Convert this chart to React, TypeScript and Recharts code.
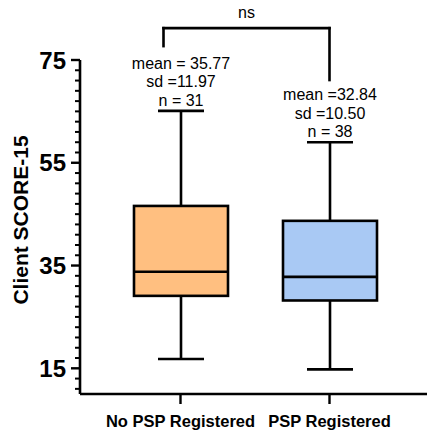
import React from 'react';
import { ComposedChart, Bar, XAxis, YAxis, ReferenceLine, Label } from 'recharts';

const groups = ['No PSP Registered', 'PSP Registered'];
const mins = [16.8, 14.8];
const q1s = [29.1, 28.2];
const medians = [33.8, 32.8];
const q3s = [46.6, 43.7];
const maxs = [65.1, 59.0];
const meanLabels = ['mean = 35.77', 'mean =32.84'];
const sdLabels = ['sd =11.97', 'sd =10.50'];
const nLabels = ['n = 31', 'n = 38'];
const fills = ['#FFBF80', '#A9C9F4'];

const majorTicks = [15, 35, 55, 75];
const minorTicks = [11, 13, 17, 19, 21, 23, 25, 27, 29, 31, 33, 37, 39, 41, 43, 45, 47, 49, 51, 53, 57, 59, 61, 63, 65, 67, 69, 71, 73];
const allTicks = [...minorTicks, ...majorTicks].sort((a, b) => a - b);

const bracketTop = 81.2;
const bracketLeftEnd = 77.7;
const bracketRightEnd = 71.1;
const bracketLabel = 'ns';
const yLabel = 'Client SCORE-15';

const FONT = 'Arial, "Liberation Sans", sans-serif';

const data = groups.map((g, i) => ({
  group: g,
  min: mins[i],
  q1: q1s[i],
  median: medians[i],
  q3: q3s[i],
  max: maxs[i],
  range: [mins[i], maxs[i]],
  fill: fills[i],
  meanLabel: meanLabels[i],
  sdLabel: sdLabels[i],
  nLabel: nLabels[i],
}));

const BoxShape = (props: any) => {
  const { x, y, width, height, payload } = props;
  if (!payload) return null;
  const top = Math.min(y, y + height);
  const h = Math.abs(height);
  const ppu = h / (payload.max - payload.min);
  const py = (v: number) => top + (payload.max - v) * ppu;
  const cx = x + width / 2;
  const capHalf = 23;
  const sw = 2.6;
  const tY = py(payload.max) - 5;
  return (
    <g>
      <line x1={cx} x2={cx} y1={py(payload.max)} y2={py(payload.q3)} stroke="#000" strokeWidth={sw} />
      <line x1={cx} x2={cx} y1={py(payload.q1)} y2={py(payload.min)} stroke="#000" strokeWidth={sw} />
      <line x1={cx - capHalf} x2={cx + capHalf} y1={py(payload.max)} y2={py(payload.max)} stroke="#000" strokeWidth={sw} />
      <line x1={cx - capHalf} x2={cx + capHalf} y1={py(payload.min)} y2={py(payload.min)} stroke="#000" strokeWidth={sw} />
      <rect x={x} y={py(payload.q3)} width={width} height={py(payload.q1) - py(payload.q3)} fill={payload.fill} stroke="#000" strokeWidth={sw} />
      <line x1={x} x2={x + width} y1={py(payload.median)} y2={py(payload.median)} stroke="#000" strokeWidth={sw} />
      <g fontFamily={FONT} fontSize={16} fill="#000" textAnchor="middle">
        <text x={cx} y={tY - 37}>{payload.meanLabel}</text>
        <text x={cx} y={tY - 18.5}>{payload.sdLabel}</text>
        <text x={cx} y={tY}>{payload.nLabel}</text>
      </g>
    </g>
  );
};

const YTick = (props: any) => {
  const { x, y, payload } = props;
  const major = majorTicks.includes(payload.value);
  return (
    <g>
      <line x1={x - (major ? 9 : 5)} x2={x} y1={y} y2={y} stroke="#000" strokeWidth={major ? 2.4 : 2} />
      {major && (
        <text x={x - 14} y={y + 8.5} textAnchor="end" fontFamily={FONT} fontSize={24} fontWeight="bold" fill="#000">
          {payload.value}
        </text>
      )}
    </g>
  );
};

const XTick = (props: any) => {
  const { x, y, payload } = props;
  return (
    <text x={x} y={y + 23} textAnchor="middle" fontFamily={FONT} fontSize={16.5} fontWeight="bold" fill="#000">
      {payload.value}
    </text>
  );
};

const YLabelContent = (props: any) => {
  const vb = props.viewBox || { x: 0, y: 60, width: 80, height: 334 };
  const lx = vb.x + 28;
  const ly = vb.y + vb.height / 2 - 7;
  return (
    <text x={lx} y={ly} transform={`rotate(-90, ${lx}, ${ly})`} textAnchor="middle" fontFamily={FONT} fontSize={21} fontWeight="bold" fill="#000">
      {yLabel}
    </text>
  );
};

const LEFT_SHIFT = 17;

const BracketTopShape = (p: any) => {
  const xa = p.x1 - LEFT_SHIFT;
  return (
    <g>
      <line x1={xa} x2={p.x2} y1={p.y1} y2={p.y2} stroke="#000" strokeWidth={2.6} strokeLinecap="square" />
      <text x={(xa + p.x2) / 2} y={p.y1 - 10} textAnchor="middle" fontFamily={FONT} fontSize={16} fill="#000">
        {bracketLabel}
      </text>
    </g>
  );
};

const BracketLeftShape = (p: any) => (
  <line x1={p.x1 - LEFT_SHIFT} x2={p.x2 - LEFT_SHIFT} y1={p.y1} y2={p.y2} stroke="#000" strokeWidth={2.6} strokeLinecap="square" />
);

const BracketRightShape = (p: any) => (
  <line x1={p.x1} x2={p.x2} y1={p.y1} y2={p.y2} stroke="#000" strokeWidth={2.6} strokeLinecap="square" />
);

export default function App() {
  return (
    <div style={{ position: 'absolute', left: 0, top: 0, background: '#fff' }}>
      <ComposedChart width={427} height={436} data={data} margin={{ top: 60, right: 0, bottom: 0, left: 0 }}>
        <XAxis
          dataKey="group"
          type="category"
          height={42}
          padding={{ left: 26, right: 23 }}
          axisLine={{ stroke: '#000', strokeWidth: 2.6 }}
          tickLine={{ stroke: '#000', strokeWidth: 2.4 }}
          tickSize={10}
          tickMargin={0}
          tick={XTick}
          interval={0}
        />
        <YAxis
          type="number"
          domain={[10, 75]}
          ticks={allTicks}
          width={80}
          axisLine={{ stroke: '#000', strokeWidth: 2.6 }}
          tickLine={false}
          tickSize={0}
          tickMargin={0}
          tick={YTick}
          interval={0}
        >
          <Label content={YLabelContent} />
        </YAxis>
        <Bar dataKey="range" barSize={94} shape={BoxShape} isAnimationActive={false} />
        <ReferenceLine
          segment={[{ x: groups[0], y: bracketTop }, { x: groups[1], y: bracketTop }]}
          ifOverflow="visible"
          shape={BracketTopShape}
        />
        <ReferenceLine
          segment={[{ x: groups[0], y: bracketTop }, { x: groups[0], y: bracketLeftEnd }]}
          ifOverflow="visible"
          shape={BracketLeftShape}
        />
        <ReferenceLine
          segment={[{ x: groups[1], y: bracketTop }, { x: groups[1], y: bracketRightEnd }]}
          ifOverflow="visible"
          shape={BracketRightShape}
        />
      </ComposedChart>
    </div>
  );
}
